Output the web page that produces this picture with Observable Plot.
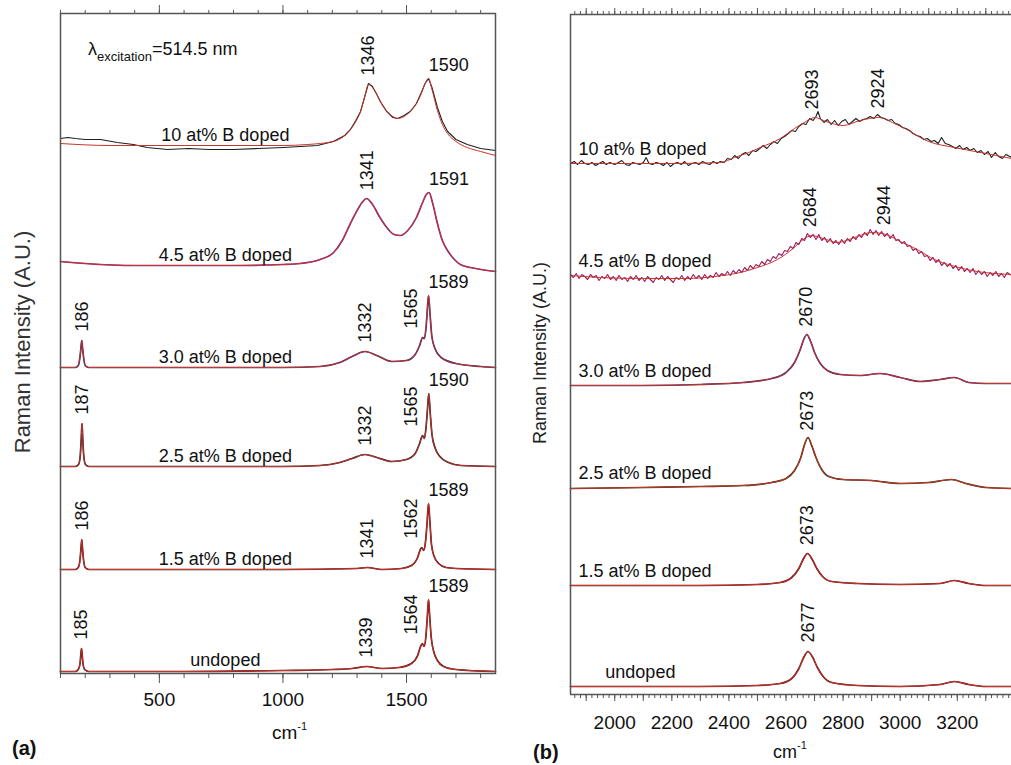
<!DOCTYPE html>
<html><head><meta charset="utf-8">
<script src="https://cdn.jsdelivr.net/npm/d3@7"></script>
<script src="https://cdn.jsdelivr.net/npm/@observablehq/plot@0.6"></script>
<style>
body{margin:0;background:#fff;font-family:"Liberation Sans",Arial,Helvetica,sans-serif;color:#111}
#wrap{position:relative;width:1011px;height:765px;overflow:hidden;background:#fff}
#pa{position:absolute;left:0;top:0;width:505px;height:765px}
#pb{position:absolute;left:506px;top:0;width:505px;height:765px}
.ov{position:absolute;white-space:nowrap;line-height:1;z-index:2}
.ytitle{position:absolute;white-space:nowrap;line-height:1;transform:translate(-50%,-50%) rotate(-90deg);z-index:2}
</style></head>
<body>
<div id="wrap">
  <div id="pa"></div>
  <div id="pb"></div>
  <div class="ytitle" style="left:23px;top:342px;font-size:22px;color:#333">Raman Intensity (A.U.)</div>
  <div class="ytitle" style="left:540px;top:353px;font-size:18px;color:#222">Raman Intensity (A.U.)</div>
  <div class="ov" style="left:88px;top:40px;font-size:18px">λ<span style="font-size:13px;position:relative;top:6px">excitation</span>=514.5 nm</div>
  <div class="ov" style="left:272px;top:723px;font-size:19px">cm<span style="font-size:11px;position:relative;top:-9px">-1</span></div>
  <div class="ov" style="left:773px;top:743px;font-size:18px">cm<span style="font-size:11px;position:relative;top:-9px">-1</span></div>
  <div class="ov" style="left:12px;top:738px;font-size:20px;font-weight:bold">(a)</div>
  <div class="ov" style="left:533px;top:742px;font-size:20px;font-weight:bold">(b)</div>
</div>
<script>
// ---------- categories ----------
const samples = ["undoped", "1.5 at% B doped", "2.5 at% B doped", "3.0 at% B doped", "4.5 at% B doped", "10 at% B doped"];

// ---------- panel (a): 100–1860 cm-1, fitted spectra [cm-1, intensity A.U. incl. stacking offset] ----------
const a_undoped = [[100,0.2],[160,0.2],[172,0.4],[179,1.0],[182,1.8],[185,2.5],[188,1.8],[191,1.0],[198,0.4],[215,0.2],[600,0.2],[1000,0.3],[1200,0.4],[1280,0.5],[1339,0.7],[1400,0.5],[1470,0.6],[1520,1.0],[1545,1.8],[1557,2.7],[1564,3.0],[1571,2.7],[1578,3.6],[1584,5.6],[1589,7.4],[1594,5.6],[1600,3.6],[1610,2.2],[1625,1.3],[1650,0.7],[1700,0.4],[1860,0.2]];
const a_15 = [[100,10.4],[160,10.4],[172,10.6],[179,11.4],[183,12.5],[186,13.4],[189,12.5],[193,11.4],[200,10.6],[215,10.4],[600,10.4],[1000,10.4],[1300,10.5],[1341,10.6],[1400,10.4],[1480,10.5],[1520,10.8],[1545,11.6],[1556,12.4],[1562,12.6],[1569,12.3],[1576,13.0],[1583,15.0],[1589,17.0],[1595,15.0],[1601,12.9],[1612,11.7],[1630,11.0],[1660,10.6],[1700,10.5],[1860,10.4]];
const a_25 = [[100,20.7],[160,20.7],[173,20.9],[180,21.8],[184,23.5],[187,25.0],[190,23.5],[194,21.8],[201,20.9],[215,20.7],[600,20.7],[1000,20.7],[1150,20.8],[1230,21.1],[1280,21.5],[1332,21.9],[1380,21.6],[1440,21.2],[1500,21.4],[1535,22.0],[1553,23.0],[1565,23.8],[1572,23.5],[1579,24.6],[1585,26.5],[1590,28.0],[1596,26.0],[1603,23.9],[1615,22.6],[1635,21.7],[1670,21.1],[1720,20.8],[1860,20.7]];
const a_30 = [[100,30.6],[160,30.6],[172,30.8],[179,31.7],[183,32.6],[186,33.3],[189,32.6],[193,31.7],[200,30.8],[215,30.6],[600,30.6],[1000,30.6],[1150,30.7],[1230,31.1],[1280,31.7],[1332,32.2],[1380,31.8],[1440,31.2],[1500,31.3],[1535,31.9],[1553,32.8],[1565,33.6],[1572,33.5],[1579,34.6],[1584,36.3],[1589,37.8],[1595,36.0],[1602,33.8],[1615,32.5],[1640,31.6],[1700,31.0],[1800,30.7],[1860,30.6]];
const a_45 = [[100,41.2],[200,41.0],[400,40.8],[800,40.8],[1000,40.9],[1070,41.0],[1150,41.4],[1205,42.1],[1240,43.3],[1273,45.0],[1300,46.3],[1320,47.1],[1338,47.5],[1360,47.0],[1390,45.7],[1420,44.6],[1450,43.9],[1475,43.8],[1505,44.3],[1540,45.6],[1565,47.1],[1580,47.9],[1591,48.1],[1605,47.1],[1625,45.0],[1645,43.3],[1666,42.3],[1690,41.5],[1718,40.9],[1780,40.5],[1860,40.2]];
const a_10 = [[100,53.0],[300,52.8],[600,52.8],[1000,52.8],[1100,52.9],[1204,53.2],[1250,53.8],[1273,54.4],[1295,55.2],[1314,56.2],[1330,57.6],[1346,58.9],[1362,58.6],[1380,57.9],[1394,57.2],[1420,56.2],[1445,55.7],[1465,55.5],[1490,55.7],[1515,56.2],[1540,57.0],[1560,58.0],[1575,59.0],[1589,59.5],[1603,58.4],[1625,56.3],[1645,54.9],[1666,54.0],[1700,53.2],[1746,52.6],[1800,52.2],[1860,51.8]];
// measured 10 at% spectrum (a), where it departs from the fit
const a_10_measured = [[100,53.5],[130,53.6],[160,53.5],[200,53.4],[262,53.4],[330,53.1],[395,52.9],[450,52.6],[533,52.4],[620,52.5],[700,52.4],[800,52.4],[900,52.5],[1002,52.6],[1140,52.8],[1204,53.2],[1250,53.8],[1273,54.4],[1295,55.3],[1314,56.2],[1330,57.6],[1346,59.0],[1362,58.7],[1380,57.9],[1394,57.2],[1420,56.2],[1445,55.6],[1465,55.5],[1490,55.8],[1515,56.2],[1540,57.0],[1560,58.1],[1575,59.0],[1589,59.5],[1603,58.6],[1625,56.6],[1645,55.2],[1666,54.2],[1700,53.4],[1746,52.9],[1800,52.5],[1860,52.3]];

// ---------- panel (b): 1845–3390 cm-1 ----------
const b_undoped = [[1845,0.8],[2300,0.8],[2500,0.9],[2580,1.1],[2620,1.6],[2645,2.6],[2662,3.7],[2677,4.3],[2692,3.8],[2710,2.7],[2730,1.8],[2760,1.2],[2850,0.9],[3000,0.8],[3140,1.0],[3190,1.3],[3240,1.0],[3300,0.8],[3390,0.8]];
const b_15 = [[1845,10.9],[2300,10.9],[2500,11.0],[2580,11.2],[2620,11.7],[2645,12.6],[2660,13.5],[2675,14.1],[2690,13.6],[2708,12.6],[2728,11.8],[2760,11.3],[2850,11.1],[3000,11.0],[3140,11.1],[3190,11.4],[3240,11.1],[3300,10.9],[3390,10.9]];
const b_25 = [[1845,20.6],[2100,20.7],[2300,20.8],[2450,20.9],[2550,21.2],[2600,21.6],[2630,22.4],[2652,23.7],[2665,25.0],[2677,25.7],[2690,24.9],[2705,23.7],[2725,22.5],[2750,21.8],[2800,21.5],[2900,21.4],[3000,21.1],[3100,21.2],[3180,21.5],[3230,21.1],[3300,20.7],[3390,20.6]];
const b_30 = [[1845,30.9],[2100,30.9],[2300,31.0],[2450,31.2],[2550,31.6],[2600,32.2],[2630,33.2],[2650,34.5],[2662,35.5],[2673,36.0],[2685,35.4],[2700,34.2],[2720,33.1],[2745,32.4],[2790,32.0],[2860,31.9],[2930,32.1],[3000,31.7],[3070,31.3],[3140,31.5],[3190,31.7],[3240,31.2],[3300,31.1],[3390,31.1]];
const b_45 = [[1845,41.9],[1950,41.7],[2100,41.6],[2250,41.6],[2350,41.8],[2440,42.2],[2500,42.7],[2570,43.5],[2625,44.6],[2660,45.5],[2690,45.9],[2730,45.6],[2780,45.2],[2840,45.7],[2900,46.2],[2950,46.0],[3000,45.3],[3060,44.5],[3120,43.5],[3180,42.9],[3250,42.4],[3390,42.0]];
const b_10 = [[1845,53.1],[2000,53.1],[2200,53.1],[2370,53.2],[2420,53.7],[2470,54.2],[2510,54.7],[2580,55.6],[2630,56.6],[2670,57.3],[2700,57.7],[2740,57.3],[2800,56.9],[2860,57.4],[2924,57.7],[2980,57.1],[3030,56.4],[3070,55.7],[3100,55.3],[3190,54.7],[3300,54.1],[3390,53.6]];
// measured (noisy) spectra in panel (b)
const b_45_measured = [[1845,42.0],[1855,41.7],[1865,42.1],[1875,41.6],[1885,42.0],[1895,41.8],[1905,41.5],[1915,42.0],[1925,41.7],[1935,41.9],[1945,41.4],[1955,41.8],[1965,41.6],[1975,42.0],[1985,41.5],[1995,41.8],[2005,41.4],[2015,41.9],[2025,41.5],[2035,41.7],[2045,41.3],[2055,41.8],[2065,41.5],[2075,41.9],[2085,41.4],[2095,41.7],[2105,41.3],[2115,41.8],[2125,41.5],[2135,41.2],[2145,41.7],[2155,41.5],[2165,41.9],[2175,41.4],[2185,41.8],[2195,41.5],[2205,41.2],[2215,41.7],[2225,41.5],[2235,41.9],[2245,41.4],[2255,41.8],[2265,41.5],[2275,42.0],[2285,41.6],[2295,41.9],[2305,41.5],[2315,42.0],[2325,41.6],[2335,41.9],[2345,41.7],[2355,42.2],[2365,41.8],[2375,42.1],[2385,41.9],[2395,42.3],[2405,41.9],[2415,42.4],[2425,42.1],[2435,42.5],[2445,42.2],[2455,42.7],[2465,42.4],[2475,42.9],[2485,42.6],[2495,43.0],[2505,42.8],[2515,43.3],[2525,43.0],[2535,43.5],[2545,43.3],[2555,43.8],[2565,43.6],[2575,44.1],[2585,43.9],[2595,44.4],[2605,44.3],[2615,44.8],[2625,44.6],[2635,45.2],[2645,45.0],[2655,45.6],[2665,45.4],[2675,46.1],[2685,45.7],[2695,46.0],[2705,45.5],[2715,46.0],[2725,45.4],[2735,45.7],[2745,45.2],[2755,45.6],[2765,45.1],[2775,45.4],[2785,45.0],[2795,45.5],[2805,45.1],[2815,45.6],[2825,45.3],[2835,45.8],[2845,45.5],[2855,46.0],[2865,45.7],[2875,46.2],[2885,45.9],[2895,46.5],[2905,46.0],[2915,46.4],[2925,45.9],[2935,46.3],[2945,45.8],[2955,46.1],[2965,45.6],[2975,46.0],[2985,45.4],[2995,45.5],[3005,45.1],[3015,45.3],[3025,44.8],[3035,44.9],[3045,44.4],[3055,44.6],[3065,44.1],[3075,44.3],[3085,43.8],[3095,43.9],[3105,43.4],[3115,43.7],[3125,43.2],[3135,43.5],[3145,42.9],[3155,43.2],[3165,42.8],[3175,43.1],[3185,42.6],[3195,42.9],[3205,42.4],[3215,42.8],[3225,42.3],[3235,42.6],[3245,42.2],[3255,42.6],[3265,42.0],[3275,42.4],[3285,42.0],[3295,42.3],[3305,41.8],[3315,42.2],[3325,41.9],[3335,42.3],[3345,41.8],[3355,42.1],[3365,41.7],[3375,42.2],[3390,41.9]];
const b_10_measured = [[1845,53.1],[1858,53.3],[1870,53.0],[1883,53.4],[1895,53.1],[1908,53.0],[1920,53.2],[1933,52.9],[1945,53.1],[1958,53.3],[1970,53.0],[1983,53.2],[2000,53.0],[2013,53.2],[2025,53.4],[2038,53.0],[2050,52.9],[2063,53.2],[2075,53.1],[2088,53.0],[2100,53.2],[2110,53.7],[2120,53.1],[2133,53.0],[2145,53.2],[2158,53.1],[2170,52.9],[2183,53.2],[2195,52.8],[2208,53.1],[2220,53.2],[2233,53.0],[2245,53.3],[2258,52.9],[2270,53.1],[2283,53.2],[2295,53.0],[2308,53.3],[2320,53.1],[2333,53.0],[2345,53.3],[2358,53.1],[2370,53.3],[2383,53.2],[2395,53.6],[2408,53.5],[2420,53.9],[2433,53.6],[2445,54.0],[2458,54.2],[2470,53.9],[2483,54.4],[2495,54.3],[2508,54.6],[2520,54.9],[2533,54.6],[2545,55.0],[2558,55.3],[2570,55.1],[2583,55.6],[2595,55.8],[2608,56.1],[2620,56.4],[2633,56.3],[2645,56.8],[2658,57.1],[2670,57.0],[2683,57.6],[2695,57.4],[2705,57.8],[2712,58.3],[2720,57.6],[2733,57.2],[2745,57.5],[2758,57.0],[2770,57.4],[2783,56.9],[2795,57.3],[2808,57.5],[2820,57.0],[2833,57.3],[2845,57.6],[2858,57.3],[2870,57.5],[2883,57.6],[2895,57.8],[2908,57.6],[2920,58.0],[2933,57.7],[2945,57.6],[2958,57.4],[2970,57.5],[2983,57.1],[2995,57.0],[3008,56.7],[3020,56.6],[3033,56.4],[3045,56.1],[3058,55.9],[3070,55.8],[3083,55.5],[3095,55.6],[3108,55.3],[3120,55.4],[3133,55.1],[3145,55.7],[3158,55.1],[3170,55.0],[3183,54.8],[3195,54.6],[3208,54.9],[3220,54.5],[3233,54.7],[3245,54.4],[3258,54.6],[3270,54.2],[3283,54.4],[3295,54.0],[3308,54.3],[3320,53.7],[3333,54.2],[3345,53.8],[3358,53.6],[3370,54.0],[3390,53.7]];

// ---------- peak labels: [sample index, wavenumber] ----------
const peaksA_vertical = [[5,1346],[4,1341],[3,186],[3,1332],[2,187],[2,1332],[1,186],[1,1341],[0,185],[0,1339]];
const peaksA_shoulder = [[3,1565],[2,1565],[1,1562],[0,1564]];
const peaksA_horizontal = [[5,1590],[4,1591],[3,1589],[2,1590],[1,1589],[0,1589]];
const peaksB_vertical = [[5,2693],[5,2924],[4,2684],[4,2944],[3,2670],[2,2673],[1,2673],[0,2677]];
// where the sample names sit (cm-1)
const nameAtA = [767,767,767,767,767,767];
const nameAtB = [1967,1873,1873,1873,1873,1873];
// axis tick values
const ticksA_minor = d3.range(100, 1861, 100);
const ticksA_major = [500, 1000, 1500];
const ticksB_minor = d3.range(1860, 3391, 20);
const ticksB_mid = d3.range(1900, 3391, 100);
const ticksB_major = [2000, 2200, 2400, 2600, 2800, 3000, 3200];

const fitsA = [a_undoped, a_15, a_25, a_30, a_45, a_10];
const measA = [a_undoped, a_15, a_25, a_30, a_45, a_10_measured];
const fitsB = [b_undoped, b_15, b_25, b_30, b_45, b_10];
const measB = [b_undoped, b_15, b_25, b_30, b_45_measured, b_10_measured];

const fitColor = "#c9342b";
const measColorA = ["#5a1212","#5a1212","#2a2222","#3b2a66","#7d2f8f","#1e1e1e"];
const measColorB = ["#651212","#651212","#3a3412","#4b2a6e","#9a1a62","#1e1e1e"];
const FONT = "'Liberation Sans', Arial, Helvetica, sans-serif";

function yAt(arr, x) {
  for (let i = 1; i < arr.length; i++) {
    if (x <= arr[i][0]) {
      const [x0, y0] = arr[i-1], [x1, y1] = arr[i];
      return y0 + (y1 - y0) * (x - x0) / (x1 - x0);
    }
  }
  return arr[arr.length-1][1];
}

function traceMarks(fits, meas, colors) {
  const m = [];
  fits.forEach((f, i) => {
    const isNoisy = meas[i] !== f;
    m.push(Plot.line(meas[i], {x: d => d[0], y: d => d[1], stroke: colors[i],
      strokeWidth: isNoisy ? 1.1 : 1.7, curve: isNoisy ? "linear" : "monotone-x"}));
    m.push(Plot.line(f, {x: d => d[0], y: d => d[1], stroke: fitColor, strokeWidth: 1, curve: "monotone-x"}));
  });
  return m;
}

const textStyle = {fill: "#111", fontSize: 18, fontFamily: FONT};
const fmt = d => String(d);

// ---------- panel (a) ----------
const plotA = Plot.plot({
  width: 505, height: 765,
  marginLeft: 60, marginRight: 10, marginTop: 13, marginBottom: 92,
  x: {domain: [100, 1860], axis: null},
  y: {domain: [0, 66], axis: null},
  style: {fontFamily: FONT, background: "transparent", overflow: "visible"},
  marks: [
    ...traceMarks(fitsA, measA, measColorA),
    Plot.frame({stroke: "#555", strokeWidth: 1.5}),
    Plot.axisX({anchor: "bottom", ticks: ticksA_minor, tickSize: 5, tickFormat: () => "", label: null, stroke: "#555"}),
    Plot.axisX({anchor: "bottom", ticks: ticksA_major, tickSize: 10, tickPadding: 9, fontSize: 19, label: null, stroke: "#555", fill: "#111", tickFormat: fmt}),
    Plot.axisX({anchor: "top", ticks: ticksA_minor, tickSize: 4, tickFormat: () => "", label: null, stroke: "#555"}),
    Plot.axisX({anchor: "top", ticks: ticksA_major, tickSize: 9, tickFormat: () => "", label: null, stroke: "#555"}),
    Plot.text(samples.map((s, i) => i), {x: i => nameAtA[i], y: i => yAt(fitsA[i], nameAtA[i]), text: i => samples[i],
      textAnchor: "middle", lineAnchor: "bottom", dy: -5, ...textStyle}),
    Plot.text(peaksA_vertical, {x: d => d[1], y: d => yAt(fitsA[d[0]], d[1]), text: d => String(d[1]),
      rotate: -90, textAnchor: "start", lineAnchor: "middle", dy: -9, ...textStyle}),
    Plot.text(peaksA_shoulder, {x: d => d[1], y: d => yAt(fitsA[d[0]], d[1]), text: d => String(d[1]),
      rotate: -90, textAnchor: "start", lineAnchor: "middle", dx: -11, dy: -9, ...textStyle}),
    Plot.text(peaksA_horizontal, {x: d => d[1], y: d => yAt(fitsA[d[0]], d[1]), text: d => String(d[1]),
      textAnchor: "start", lineAnchor: "bottom", dx: 0, dy: -8, ...textStyle})
  ]
});
document.getElementById("pa").appendChild(plotA);

// ---------- panel (b) ----------
const plotB = Plot.plot({
  width: 505, height: 765,
  marginLeft: 64, marginRight: 0, marginTop: 14, marginBottom: 71,
  x: {domain: [1845, 3390], axis: null},
  y: {domain: [0, 68], axis: null},
  style: {fontFamily: FONT, background: "transparent", overflow: "visible"},
  marks: [
    ...traceMarks(fitsB, measB, measColorB),
    Plot.ruleX([1845], {stroke: "#555", strokeWidth: 1.5}),
    Plot.ruleY([0, 68], {stroke: "#555", strokeWidth: 1.5}),
    Plot.axisX({anchor: "bottom", ticks: ticksB_minor, tickSize: 4, tickFormat: () => "", label: null, stroke: "#555"}),
    Plot.axisX({anchor: "bottom", ticks: ticksB_mid, tickSize: 7, tickFormat: () => "", label: null, stroke: "#555"}),
    Plot.axisX({anchor: "bottom", ticks: ticksB_major, tickSize: 0, tickPadding: 21, fontSize: 19, label: null, fill: "#111", tickFormat: fmt}),
    Plot.axisX({anchor: "top", ticks: ticksB_minor, tickSize: 4, tickFormat: () => "", label: null, stroke: "#555"}),
    Plot.axisX({anchor: "top", ticks: ticksB_mid, tickSize: 7, tickFormat: () => "", label: null, stroke: "#555"}),
    Plot.text(samples.map((s, i) => i), {x: i => nameAtB[i], y: i => yAt(fitsB[i], nameAtB[i]), text: i => samples[i],
      textAnchor: "start", lineAnchor: "bottom", dy: -9, ...textStyle}),
    Plot.text(peaksB_vertical, {x: d => d[1], y: d => yAt(fitsB[d[0]], d[1]), text: d => String(d[1]),
      rotate: -90, textAnchor: "start", lineAnchor: "middle", dy: -9, ...textStyle})
  ]
});
document.getElementById("pb").appendChild(plotB);
</script>
</body></html>
